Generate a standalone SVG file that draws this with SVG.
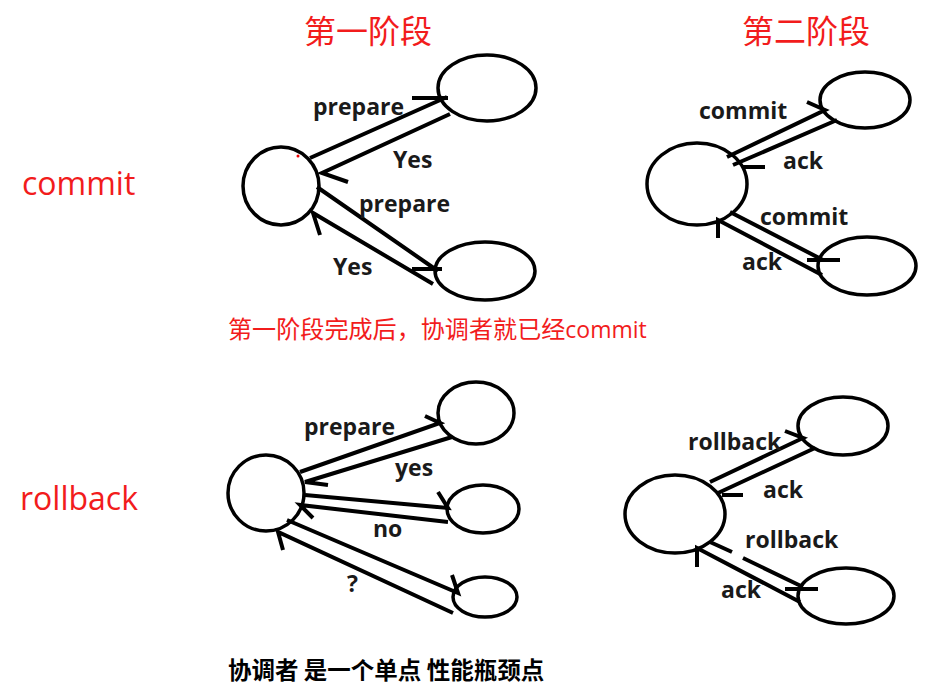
<svg xmlns="http://www.w3.org/2000/svg" width="946" height="690" viewBox="0 0 946 690">
<style>
.node{fill:none;stroke:#000;stroke-width:3.5}
.ln{fill:none;stroke:#000;stroke-width:4;stroke-linecap:butt}
.lbl{font-family:"Open Sans","Noto Sans CJK SC",sans-serif;font-weight:700;font-size:23px;fill:#1a1a1a}
.red{font-family:"Noto Sans CJK SC",sans-serif;fill:#f21c1c}
.side{font-family:"Open Sans","Noto Sans CJK SC",sans-serif;font-size:32px;fill:#f21c1c}
.note{font-family:"Noto Sans CJK SC",sans-serif;font-weight:700;font-size:23.5px;fill:#000}
.lat{font-family:"Open Sans","Noto Sans CJK SC",sans-serif;font-size:23px}
</style>
<rect width="946" height="690" fill="#fff"/>
<text class="red" x="368" y="43" font-size="32" text-anchor="middle">第一阶段</text>
<text class="red" x="806" y="43" font-size="32" text-anchor="middle">第二阶段</text>
<text class="side" x="22" y="195">commit</text>
<text class="side" x="20" y="510">rollback</text>
<text class="red" x="228" y="338" font-size="24.1">第一阶段完成后，协调者就已经<tspan class="lat">commit</tspan></text>
<text class="note" x="228" y="679">协调者 是一个单点 性能瓶颈点</text>

<g id="c1"><ellipse class="node" cx="281" cy="186" rx="38" ry="39"/></g>
<g id="c1a"><ellipse class="node" cx="487" cy="88" rx="49" ry="33"/></g>
<g id="c1b"><ellipse class="node" cx="485" cy="271" rx="50" ry="29"/></g>
<circle cx="298" cy="156" r="1.5" fill="#e00"/>

<g id="c2"><ellipse class="node" cx="697" cy="184" rx="50" ry="41"/></g>
<g id="c2a"><ellipse class="node" cx="865" cy="100" rx="45" ry="28"/></g>
<g id="c2b"><ellipse class="node" cx="867" cy="266" rx="49" ry="29"/></g>

<g id="r1"><ellipse class="node" cx="266" cy="493" rx="38" ry="38"/></g>
<g id="r1a"><ellipse class="node" cx="476" cy="413" rx="38" ry="31"/></g>
<g id="r1b"><ellipse class="node" cx="483" cy="509" rx="36" ry="24"/></g>
<g id="r1c"><ellipse class="node" cx="485" cy="597" rx="32" ry="20"/></g>

<g id="r2"><ellipse class="node" cx="675" cy="514" rx="50" ry="39"/></g>
<g id="r2a"><ellipse class="node" cx="843" cy="426" rx="45" ry="29"/></g>
<g id="r2b"><ellipse class="node" cx="846" cy="596" rx="48" ry="28"/></g>

<g id="connectors">
<path class="ln" d="M310 158 L447 97 M412 98 L448 98"/>
<path class="ln" d="M450 114 L322 173 L348 182"/>
<path class="ln" d="M317 187 L438 271 M412 269 L442 269"/>
<path class="ln" d="M433 284 L313 213 L320 235"/>
<path class="ln" d="M727 157 L825 110 L807 102"/>
<path class="ln" d="M837 120 L733 165 M742 167 L765 167"/>
<path class="ln" d="M730 212 L823 260 M807 260 L840 260"/>
<path class="ln" d="M822 275 L718 220 L718 238"/>
<path class="ln" d="M300 472 L440 423 L425 416"/>
<path class="ln" d="M452 437 L305 482 L328 485"/>
<path class="ln" d="M305 495 L448 508 L438 492"/>
<path class="ln" d="M448 522 L300 505 L313 518"/>
<path class="ln" d="M287 520 L458 593 L452 575"/>
<path class="ln" d="M453 613 L278 532 L283 550"/>
<path class="ln" d="M710 482 L803 438 L785 431"/>
<path class="ln" d="M815 448 L718 493 M722 495 L743 495"/>
<path class="ln" d="M710 542 L732 552 M743 558 L803 587 M785 589 L818 589"/>
<path class="ln" d="M800 602 L697 548 L697 567"/>
</g>

<g id="labels">
<text class="lbl" x="313" y="115">prepare</text>
<text class="lbl" x="393" y="168">Yes</text>
<text class="lbl" x="359" y="212">prepare</text>
<text class="lbl" x="333" y="275">Yes</text>
<text class="lbl" x="699" y="119">commit</text>
<text class="lbl" x="783" y="169">ack</text>
<text class="lbl" x="760" y="225">commit</text>
<text class="lbl" x="742" y="270">ack</text>
<text class="lbl" x="304" y="435">prepare</text>
<text class="lbl" x="395" y="476">yes</text>
<text class="lbl" x="373" y="537">no</text>
<text class="lbl" x="347" y="592">?</text>
<text class="lbl" x="688" y="450">rollback</text>
<text class="lbl" x="763" y="498">ack</text>
<text class="lbl" x="745" y="548">rollback</text>
<text class="lbl" x="721" y="598">ack</text>
</g>
</svg>
